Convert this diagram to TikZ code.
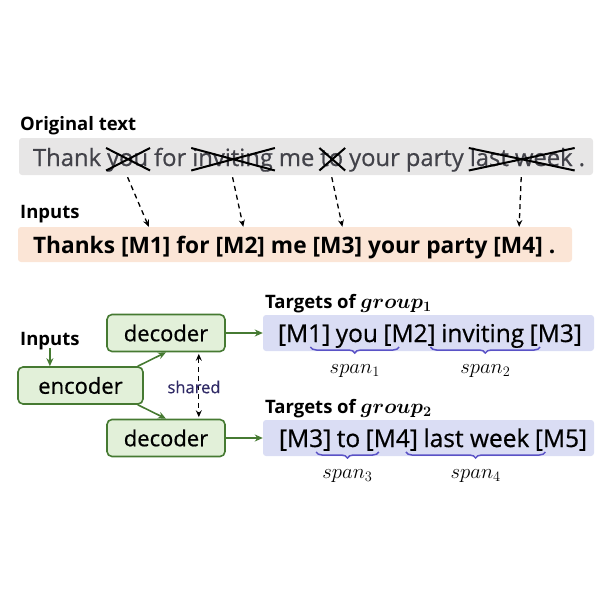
\documentclass[tikz,border=0pt]{standalone}
\usepackage{fontspec}
\usepackage{amsmath}
\setmainfont{Open Sans}
\newfontfamily\regfont{Open Sans}[FakeBold=0.6]
\usetikzlibrary{positioning,arrows.meta,decorations.pathreplacing,calc}
\definecolor{grayfill}{HTML}{E7E6E6}
\definecolor{graytext}{HTML}{424249}
\definecolor{orangefill}{HTML}{FBE5D6}
\definecolor{greenfill}{HTML}{E2F0D9}
\definecolor{greenline}{HTML}{467A32}
\definecolor{bluefill}{HTML}{DADDF4}
\definecolor{bracecol}{HTML}{5A52C6}
\definecolor{sharedcol}{HTML}{302A66}
\newcommand\grpfont{\fontsize{21}{24}\selectfont}
\tikzset{
  wordbase/.style={inner sep=0pt, outer sep=0pt, anchor=base west},
  gw/.style={wordbase, text=graytext, font=\regfont\fontsize{23.8}{28}\selectfont, text height=18pt, text depth=4.5pt},
  ow/.style={wordbase, font=\bfseries\fontsize{22.7}{28}\selectfont, text height=17pt, text depth=4.5pt},
  tw/.style={wordbase, font=\regfont\fontsize{24.5}{28}\selectfont, text height=15pt, text depth=5pt},
  lbl/.style={inner sep=0pt, anchor=base west, font=\bfseries\fontsize{18.5}{20}\selectfont},
  panel/.style={draw=none, rounded corners=3pt, inner sep=0pt},
  modbox/.style={draw=greenline, fill=greenfill, line width=1.6pt, rounded corners=5pt,
    minimum height=37pt, inner sep=0pt, font=\regfont\fontsize{22}{26}\selectfont},
  crossline/.style={line width=2pt, black},
  darr/.style={-{Stealth[length=7pt,width=6pt,inset=2.5pt]}, dashed, dash pattern=on 5pt off 4pt, line width=1.3pt},
  garr/.style={-{Stealth[length=8pt,width=7pt,inset=2.5pt]}, draw=greenline, line width=1.6pt},
  sarr/.style={{Stealth[length=7pt,width=6pt,inset=2.5pt]}-{Stealth[length=7pt,width=6pt,inset=2.5pt]}, dashed, dash pattern=on 5pt off 4pt, line width=1.3pt},
  spanbrace/.style={decorate, decoration={brace, mirror, amplitude=6pt}, draw=bracecol, line width=1.5pt},
  spanlbl/.style={inner sep=0pt, font=\fontsize{21}{24}\selectfont}
}
\begin{document}
\begin{tikzpicture}[x=1pt,y=-1pt]
\useasboundingbox (0,0) rectangle (610,610);

% ---------- top part ----------
\node[lbl] (origlbl) at (20,130) {Original text};
\node[panel, fill=grayfill, minimum width=574pt, minimum height=37pt] (gbox) at (306,156.5) {};
\node[gw] (g1) at (33,166) {Thank};
\node[gw, base right=6pt of g1] (g2) {you};
\node[gw, base right=6pt of g2] (g3) {for};
\node[gw, base right=6pt of g3] (g4) {inviting};
\node[gw, base right=6pt of g4] (g5) {me};
\node[gw, base right=6pt of g5] (g6) {to};
\node[gw, base right=6pt of g6] (g7) {your};
\node[gw, base right=6pt of g7] (g8) {party};
\node[gw, base right=6pt of g8] (g9) {last week};
\node[gw, base right=6pt of g9] (g10) {.};
\foreach \w in {g2,g4,g6,g9}{
  \draw[crossline] ([xshift=-1pt]\w.north west) -- ([xshift=2pt]\w.south east) ([xshift=-1pt]\w.south west) -- ([xshift=2pt]\w.north east);
}

\node[lbl] (inlbl) at (20,218) {Inputs};
\node[panel, fill=orangefill, minimum width=554pt, minimum height=35pt] (obox) at (295,244.5) {};
\node[ow] (o1) at (33,253) {Thanks};
\node[ow, base right=6pt of o1] (m1) {[M1]};
\node[ow, base right=6pt of m1] (o2) {for};
\node[ow, base right=6pt of o2] (m2) {[M2]};
\node[ow, base right=6pt of m2] (o3) {me};
\node[ow, base right=6pt of o3] (m3) {[M3]};
\node[ow, base right=6pt of m3] (o4) {your};
\node[ow, base right=6pt of o4] (o5) {party};
\node[ow, base right=6pt of o5] (m4) {[M4]};
\node[ow, base right=6pt of m4] (o6) {.};

\draw[darr] ($(g2 |- gbox.south)+(0,2)$) -- ($(m1 |- obox.north)+(3,0)$);
\draw[darr] ($(g4 |- gbox.south)+(0,2)$) -- ($(m2 |- obox.north)+(3,0)$);
\draw[darr] ($(g6 |- gbox.south)+(0,2)$) -- ($(m3 |- obox.north)+(5,0)$);
\draw[darr] ($(g9 |- gbox.south)+(0,2)$) -- ($(m4 |- obox.north)+(1,0)$);

% ---------- bottom part ----------
\node[lbl] (inlbl2) at (20,345) {Inputs};
\node[modbox, minimum width=125pt] (enc) at (80.5,385.5) {encoder};
\node[modbox, minimum width=118pt] (dec1) at (166,333) {decoder};
\node[modbox, minimum width=118pt] (dec2) at (166,438) {decoder};

\draw[garr] (inlbl2.south |- 0,348) -- (inlbl2.south |- enc.north);
\draw[garr] ([xshift=-6pt]enc.north east) -- (dec1.south);
\draw[garr] ([xshift=-6pt]enc.south east) -- (dec2.north);
\draw[sarr] ([xshift=-27pt,yshift=-1.5pt]dec1.south east) -- ([xshift=-27pt,yshift=1.5pt]dec2.north east);
\node[inner sep=0pt, text=sharedcol, font=\regfont\fontsize{16.5}{18}\selectfont] (sharedlbl) at (194,387) {shared};

% targets 1
\node[lbl] (tlbl1) at (265,308) {Targets of {\grpfont$\boldsymbol{group_1}$}};
\node[panel, fill=bluefill, minimum width=331pt, minimum height=36pt] (tb1) at (428.5,333) {};
\node[tw] (a1) at (278,342) {[M1]};
\node[tw, base right=5.5pt of a1] (a2) {you};
\node[tw, base right=5.5pt of a2] (a3) {[M2]};
\node[tw, base right=5.5pt of a3] (a4) {inviting};
\node[tw, base right=5.5pt of a4] (a5) {[M3]};
\draw[garr] (dec1.east) -- (tb1.west);

% targets 2
\node[lbl] (tlbl2) at (265,413) {Targets of {\grpfont$\boldsymbol{group_2}$}};
\node[panel, fill=bluefill, minimum width=331pt, minimum height=36pt] (tb2) at (428.5,438) {};
\node[tw] (b1) at (279,447) {[M3]};
\node[tw, base right=5.5pt of b1] (b2) {to};
\node[tw, base right=5.5pt of b2] (b3) {[M4]};
\node[tw, base right=5.5pt of b3] (b4) {last week};
\node[tw, base right=5.5pt of b4] (b5) {[M5]};
\draw[garr] (dec2.east) -- (tb2.west);

% braces
\draw[spanbrace] ($(a1.south west)!0.62!(a1.south east)$) -- node[spanlbl, below=17pt] (sp1) {$span_1$} ($(a3.south west)!0.3!(a3.south east)$);
\draw[spanbrace] ($(a3.south west)!0.9!(a3.south east)$) -- node[spanlbl, below=17pt] (sp2) {$span_2$} ($(a5.south west)!0.2!(a5.south east)$);
\draw[spanbrace] ($(b1.south west)!0.71!(b1.south east)$) -- node[spanlbl, below=17pt] (sp3) {$span_3$} ($(b3.south west)!0.25!(b3.south east)$);
\draw[spanbrace] ($(b3.south west)!0.77!(b3.south east)$) -- node[spanlbl, below=17pt] (sp4) {$span_4$} ($(b5.south west)!0.2!(b5.south east)$);
\end{tikzpicture}
\end{document}
